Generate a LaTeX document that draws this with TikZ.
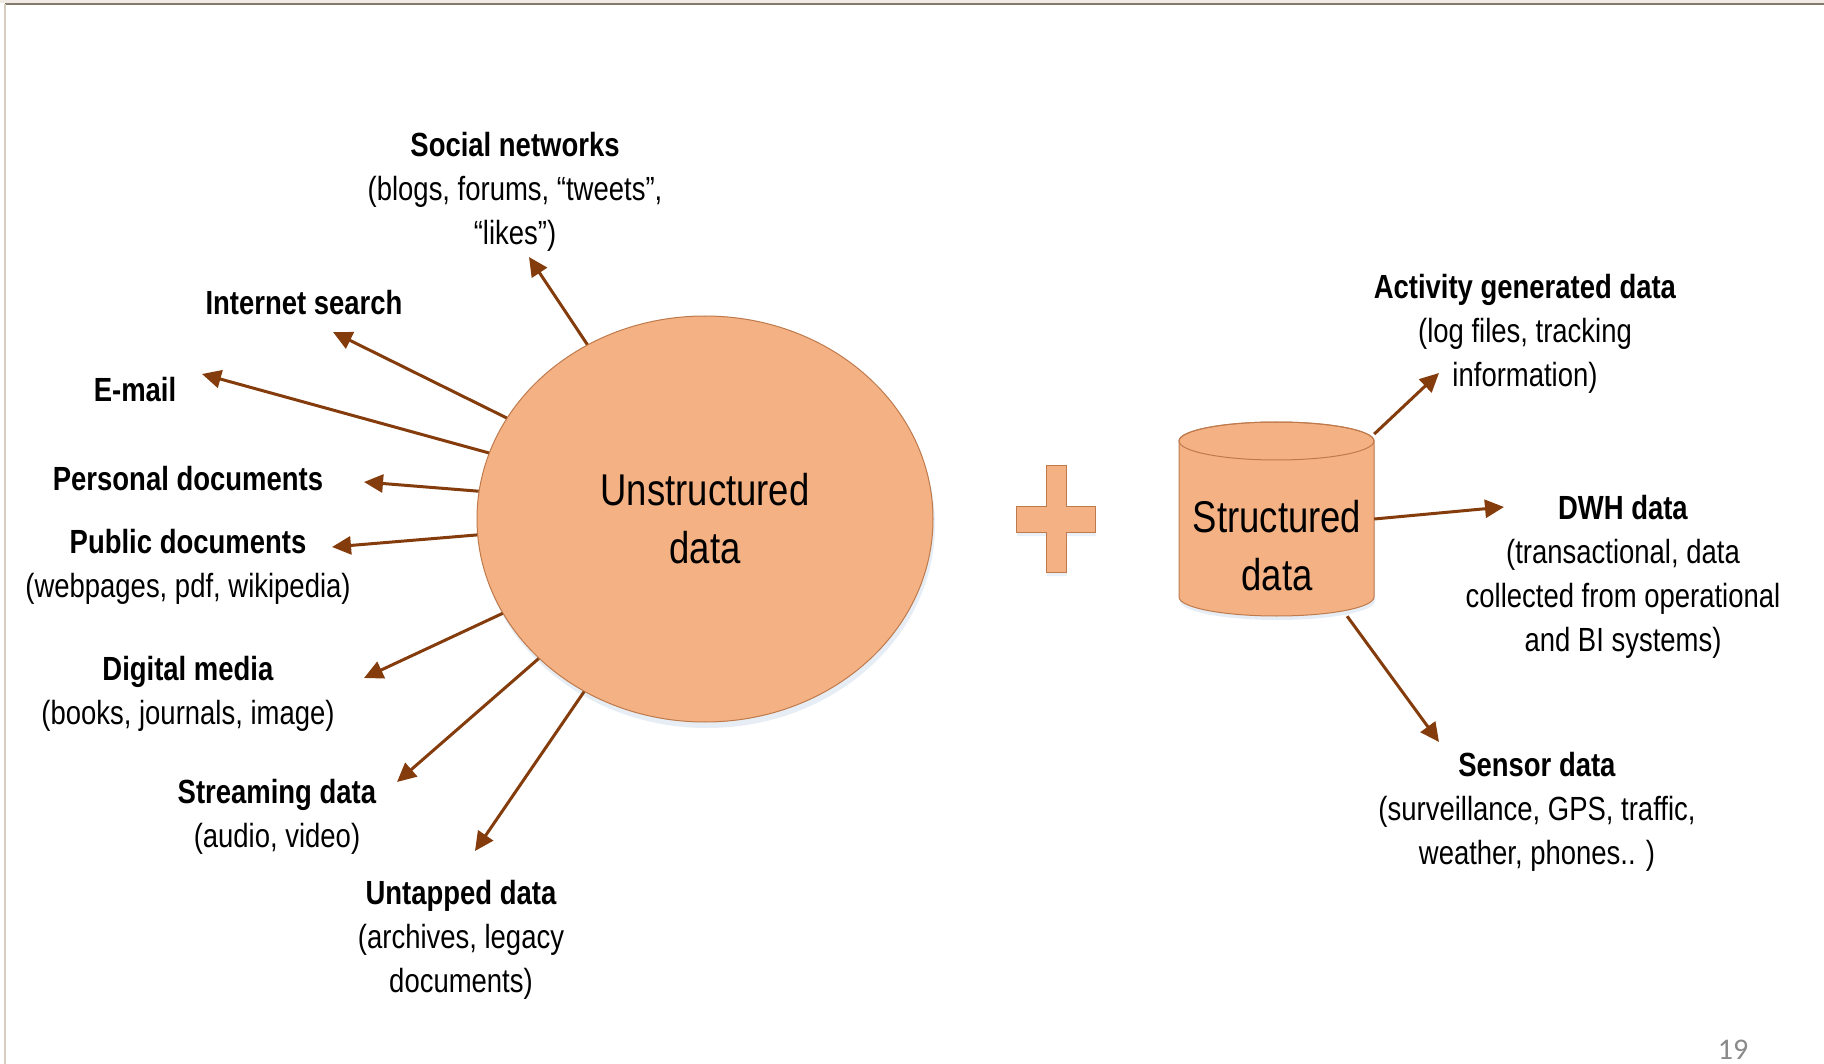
\documentclass[tikz,border=0pt]{standalone}
\usepackage{fontspec}
\setmainfont[FakeStretch=0.82]{Liberation Sans}
\newfontfamily\pagenumfont{Carlito}
\usetikzlibrary{arrows.meta,shapes.geometric}
\definecolor{fillor}{HTML}{F4B183}
\definecolor{edgeor}{HTML}{BF7A4C}
\definecolor{arrbrown}{HTML}{843C0C}
\definecolor{shadowblue}{HTML}{DCE6F2}
\definecolor{framedark}{HTML}{847B6E}
\definecolor{framelight}{HTML}{D9CDBD}
\definecolor{pagegray}{HTML}{8A8A8A}
\begin{document}
\begin{tikzpicture}[x=1pt,y=-1pt,
  lbl/.style={align=center, inner sep=0pt, font=\fontsize{33.5}{44}\selectfont},
  bigtext/.style={align=center, inner sep=0pt, font=\fontsize{44.5}{58}\selectfont},
  arr/.style={draw=arrbrown, line width=3pt, -{Triangle[length=19pt,width=18pt]}},
  shapefill/.style={fill=fillor, draw=edgeor, line width=1pt}]
\useasboundingbox (0,0) rectangle (1824,1064);
\fill[white] (0,0) rectangle (1824,1064);
% frame
\fill[framelight!40] (0,0) rectangle (1824,3);
\draw[framedark, line width=1.5pt] (5,4) -- (1824,4);
\draw[framelight, line width=2pt] (5,4) -- (5,1064);

% unstructured ellipse
\fill[shadowblue, opacity=0.7] (707,525) ellipse [x radius=228, y radius=203];
\node[ellipse, shapefill, minimum width=456pt, minimum height=406pt, inner sep=0pt,
      font=\fontsize{44.5}{58}\selectfont, align=center] (U) at (705,519) {Unstructured\\data};

% plus
\fill[shadowblue, opacity=0.6] (1047,470) -- (1067,470) -- (1067,510) -- (1096,510) -- (1096,536) -- (1067,536) -- (1067,576) -- (1047,576) -- (1047,536) -- (1017,536) -- (1017,510) -- (1047,510) -- cycle;
\path[shapefill] (1046,466) -- (1066,466) -- (1066,506) -- (1095,506) -- (1095,532) -- (1066,532) -- (1066,572) -- (1046,572) -- (1046,532) -- (1016,532) -- (1016,506) -- (1046,506) -- cycle;

% cylinder
\fill[shadowblue, opacity=0.7] (1180,446) -- (1180,601) arc[start angle=180, end angle=0, x radius=97.5, y radius=19] -- (1375,446) -- cycle;
\path[shapefill] (1179,441) -- (1179,597) arc[start angle=180, end angle=0, x radius=97.5, y radius=19] -- (1374,441) arc[start angle=0, end angle=-180, x radius=97.5, y radius=19] -- cycle;
\draw[edgeor, line width=1pt] (1276.5,441) ellipse [x radius=97.5, y radius=19];
\node[rectangle, minimum width=195pt, minimum height=194pt, inner sep=0pt] (S) at (1276.5,519) {};
\node[bigtext] (stext) at (1277,546) {Structured\\data};

% labels left
\node[lbl] (sn) at (515,191.5) {\textbf{Social networks}\\(blogs, forums, “tweets”,\\“likes”)};
\node[lbl] (is) at (304,302.5) {\textbf{Internet search}};
\node[lbl] (em) at (135,389.5) {\textbf{E-mail}};
\node[lbl] (pd) at (188,478.5) {\textbf{Personal documents}};
\node[lbl] (pu) at (188,566.5) {\textbf{Public documents}\\(webpages, pdf, wikipedia)};
\node[lbl] (dm) at (188,693.5) {\textbf{Digital media}\\(books, journals, image)};
\node[lbl] (sd) at (277,816.5) {\textbf{Streaming data}\\(audio, video)};
\node[lbl] (ud) at (461,939.5) {\textbf{Untapped data}\\(archives, legacy\\documents)};
% labels right
\node[lbl] (ag) at (1525,333.5) {\textbf{Activity generated data}\\(log files, tracking\\information)};
\node[lbl] (dw) at (1623,576.5) {\textbf{DWH data}\\(transactional, data\\collected from operational\\and BI systems)};
\node[lbl] (se) at (1537,811.5) {\textbf{Sensor data}\\(surveillance, GPS, traffic,\\weather, phones.. )};

% arrow tips
\coordinate (t1) at (529,257);
\coordinate (t2) at (333,332);
\coordinate (t3) at (202,374);
\coordinate (t4) at (364,482);
\coordinate (t5) at (332,547);
\coordinate (t6) at (364,678);
\coordinate (t7) at (397,782);
\coordinate (t8) at (475,851);
\coordinate (t9) at (1439,373);
\coordinate (t10) at (1504,507);
\coordinate (t11) at (1439,742);

\draw[arr] (U.124) -- (t1);
\draw[arr] (U.153) -- (t2);
\draw[arr] (U.163.5) -- (t3);
\draw[arr] (U.173.7) -- (t4);
\draw[arr] (U.184.3) -- (t5);
\draw[arr] (U.205.2) -- (t6);
\draw[arr] (U.220.9) -- (t7);
\draw[arr] (U.235.2) -- (t8);
\draw[arr] (S.41.3) -- (t9);
\draw[arr] (S.0) -- (t10);
\draw[arr] (S.-54) -- (t11);

% page number
\node[font=\pagenumfont\fontsize{30}{36}\selectfont, text=pagegray, inner sep=0pt] (pg) at (1733,1050) {19};
\end{tikzpicture}
\end{document}
